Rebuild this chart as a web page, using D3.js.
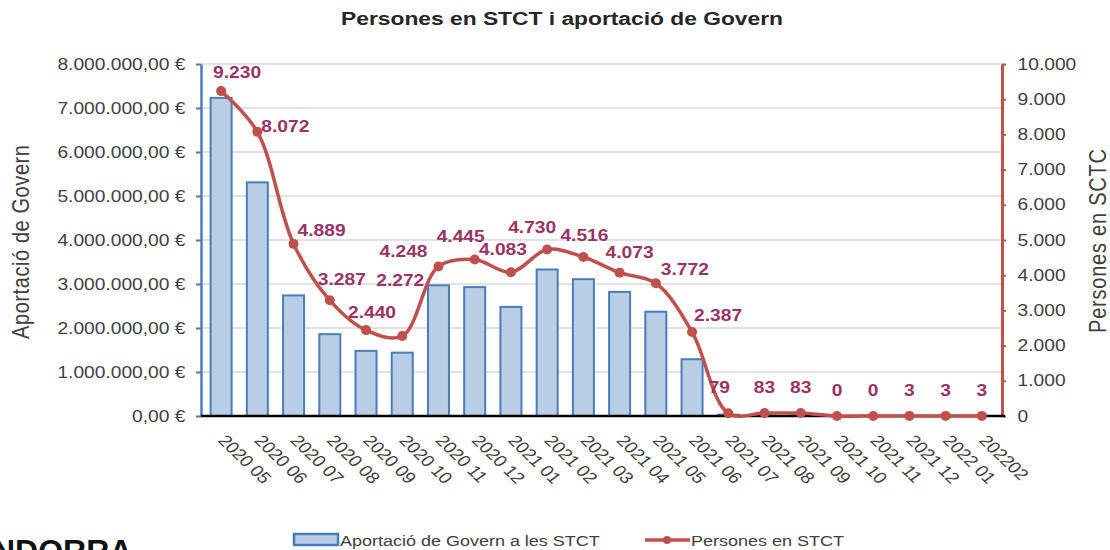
<!DOCTYPE html>
<html lang="ca">
<head>
<meta charset="utf-8">
<title>Persones en STCT i aportació de Govern</title>
<script src="https://cdn.jsdelivr.net/npm/d3@7"></script>
<style>
  html, body { margin: 0; padding: 0; background: #fff; }
  body { font-family: "Liberation Sans", Arial, sans-serif; }
  svg { display: block; }
  .grid line { stroke: #d9d9d9; stroke-width: 1.5; }
  .eix text { fill: #404040; font-size: 16px; }
</style>
</head>
<body>
<svg id="chart" width="1110" height="550"></svg>
<script>
// dades (llegides del gràfic)
var mesos = ["2020 05","2020 06","2020 07","2020 08","2020 09","2020 10","2020 11","2020 12",
  "2021 01","2021 02","2021 03","2021 04","2021 05","2021 06","2021 07","2021 08","2021 09",
  "2021 10","2021 11","2021 12","2022 01","202202"];
var aportacio = [7230000, 5310000, 2740000, 1860000, 1480000, 1440000, 2970000, 2930000,
  2480000, 3330000, 3110000, 2820000, 2370000, 1290000, 30000, 15000, 15000, 0, 0, 0, 0, 0];
var persones = [9230, 8072, 4889, 3287, 2440, 2272, 4248, 4445, 4083, 4730, 4516, 4073,
  3772, 2387, 79, 83, 83, 0, 0, 3, 3, 3];
var ticksEuros = [0, 1000000, 2000000, 3000000, 4000000, 5000000, 6000000, 7000000, 8000000];
var ticksPersones = [0, 1000, 2000, 3000, 4000, 5000, 6000, 7000, 8000, 9000, 10000];
// on va cada etiqueta respecte al seu punt (no son dades)
var despEtiq = [[16,-13],[28,0],[28,-8],[12,-15],[6,-12],[-2,-50],[-35,-9],[-14,-18],[-8,-17],
  [-15,-17],[1,-16],[10,-15],[29,-8],[26,-11],[-9,-20],[0,-20],[0,-20],[0,-20],[0,-20],
  [0,-20],[0,-20],[0,-20]];

var SX = 1.2; // el text de l'original surt eixamplat
var esq = 201, dre = 1002, dalt = 64, baix = 416;
var blau = "#4a7ebb", vermell = "#c0504d", lila = "#993366";

var loc = d3.formatLocale({decimal: ",", thousands: ".", grouping: [3], currency: ["", " €"]});
var fEur = function(d){ return loc.format(",.2f")(d) + " €"; };
var fNum = loc.format(",d");

var svg = d3.select("#chart");

var x = d3.scaleBand().domain(mesos).range([esq + 2, dre - 2]).paddingInner(0.42).paddingOuter(0.21);
var yE = d3.scaleLinear().domain([0, 8000000]).range([baix, dalt]);
var yP = d3.scaleLinear().domain([0, 10000]).range([baix, dalt]);
var cx = function(i){ return x(mesos[i]) + x.bandwidth() / 2; };

// graella
svg.append("g").attr("class", "grid")
  .selectAll("line").data(ticksEuros.slice(1)).enter().append("line")
  .attr("x1", esq).attr("x2", dre)
  .attr("y1", function(d){ return yE(d); }).attr("y2", function(d){ return yE(d); });

// barres
svg.append("g").selectAll("rect").data(aportacio).enter().append("rect")
  .attr("x", function(d, i){ return x(mesos[i]); })
  .attr("width", x.bandwidth())
  .attr("y", function(d){ return yE(d); })
  .attr("height", function(d){ return baix - yE(d); })
  .attr("fill", "#b9cde5").attr("stroke", blau).attr("stroke-width", 2)
  .attr("display", function(d){ return d > 0 ? null : "none"; });

// eix esquerre
var gE = svg.append("g").attr("class", "eix").attr("transform", "translate(" + esq + ",0)")
  .call(d3.axisLeft(yE).tickValues(ticksEuros).tickFormat(fEur).tickSizeInner(5).tickSizeOuter(0).tickPadding(8));
gE.select(".domain").attr("stroke", blau).attr("stroke-width", 2.5);
gE.selectAll(".tick line").attr("stroke", blau).attr("stroke-width", 2);
gE.selectAll(".tick text").attr("transform", "scale(" + SX + ",1)").attr("font-family", null);

// eix dret
var gP = svg.append("g").attr("class", "eix").attr("transform", "translate(" + dre + ",0)")
  .call(d3.axisRight(yP).tickValues(ticksPersones).tickFormat(fNum).tickSizeInner(4).tickSizeOuter(0).tickPadding(9));
gP.select(".domain").attr("stroke", vermell).attr("stroke-width", 3);
gP.selectAll(".tick line").attr("stroke", vermell).attr("stroke-width", 2);
gP.selectAll(".tick text").attr("transform", "scale(" + SX + ",1)").attr("font-family", null);

// eix X
var gX = svg.append("g").attr("class", "eix").attr("transform", "translate(0," + baix + ")")
  .call(d3.axisBottom(x).tickSize(0).tickPadding(0));
gX.select(".domain").attr("d", "M" + esq + ",0H" + (dre + 3)).attr("stroke", "#000").attr("stroke-width", 2.5);
gX.selectAll(".tick text")
  .attr("font-family", null).attr("font-size", 18)
  .attr("text-anchor", "start").attr("y", 0).attr("dy", 0)
  .attr("transform", "translate(-4,25) scale(" + SX + ",1) rotate(49)");

// línia persones
var linia = d3.line()
  .x(function(d, i){ return cx(i); })
  .y(function(d){ return yP(d); })
  .curve(d3.curveCatmullRom.alpha(0.5));
svg.append("path").datum(persones)
  .attr("d", linia).attr("fill", "none").attr("stroke", vermell).attr("stroke-width", 3.5);
svg.append("g").selectAll("circle").data(persones).enter().append("circle")
  .attr("cx", function(d, i){ return cx(i); }).attr("cy", function(d){ return yP(d); })
  .attr("r", 5).attr("fill", vermell);

// etiquetes
svg.append("g").selectAll("text").data(persones).enter().append("text")
  .attr("transform", function(d, i){
    return "translate(" + (cx(i) + despEtiq[i][0]) + "," + (yP(d) + despEtiq[i][1]) + ") scale(" + SX + ",1)";
  })
  .attr("text-anchor", "middle").attr("font-size", 16).attr("font-weight", "bold").attr("fill", lila)
  .text(function(d){ return fNum(d); });

// títols
svg.append("text").attr("transform", "translate(562,25) scale(" + SX + ",1)")
  .attr("text-anchor", "middle").attr("font-size", 19).attr("font-weight", "bold").attr("fill", "#262626")
  .text("Persones en STCT i aportació de Govern");
svg.append("text").attr("transform", "translate(29,242) scale(" + SX + ",1) rotate(-90)")
  .attr("text-anchor", "middle").attr("font-size", 20).attr("fill", "#404040")
  .attr("textLength", 194).attr("lengthAdjust", "spacing")
  .text("Aportació de Govern");
svg.append("text").attr("transform", "translate(1106,241) scale(" + SX + ",1) rotate(-90)")
  .attr("text-anchor", "middle").attr("font-size", 20).attr("fill", "#404040")
  .attr("textLength", 184).attr("lengthAdjust", "spacing")
  .text("Persones en SCTC");

// llegenda
var lleg = svg.append("g");
lleg.append("rect").attr("x", 294).attr("y", 534).attr("width", 44).attr("height", 11)
  .attr("fill", "#b9cde5").attr("stroke", blau).attr("stroke-width", 2.5);
lleg.append("text").attr("transform", "translate(340,546) scale(" + SX + ",1)")
  .attr("font-size", 15).attr("fill", "#404040").text("Aportació de Govern a les STCT");
lleg.append("line").attr("x1", 645).attr("x2", 690).attr("y1", 540).attr("y2", 540)
  .attr("stroke", vermell).attr("stroke-width", 3.5);
lleg.append("circle").attr("cx", 667).attr("cy", 540).attr("r", 4).attr("fill", vermell);
lleg.append("text").attr("transform", "translate(691,546) scale(" + SX + ",1)")
  .attr("font-size", 15).attr("fill", "#404040").text("Persones en STCT");

// tros del logotip de la pàgina (tallat a baix, com a l'original)
svg.append("text").attr("x", -8).attr("y", 562)
  .attr("font-size", 32).attr("font-weight", "bold").attr("fill", "#111")
  .text("NDORRA");
</script>
</body>
</html>
